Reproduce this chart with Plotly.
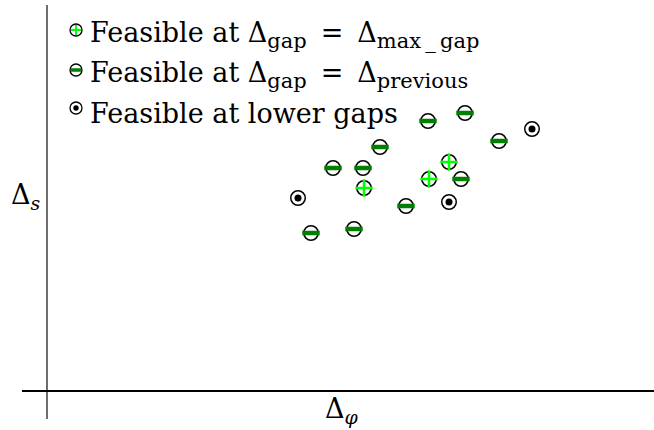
import plotly.graph_objects as go

# ---- data (arbitrary units) ----
minus_x = [3.81, 4.18, 4.52, 3.33, 2.86, 3.16, 4.14, 3.59, 2.64, 3.07]
minus_y = [2.70, 2.78, 2.50, 2.44, 2.23, 2.23, 2.12, 1.85, 1.58, 1.62]
plus_x = [4.02, 3.82, 3.17]
plus_y = [2.29, 2.12, 2.03]
dot_x = [4.85, 2.51, 4.02]
dot_y = [2.62, 1.93, 1.89]

SUB = '<sub><span style="font-size:21px">{}</span></sub>'
EQ = "\u2009 = \u2009"
legend_labels = [
    "Feasible at Δ" + SUB.format("gap") + EQ + "Δ" + SUB.format("max\u2009_\u2009gap"),
    "Feasible at Δ" + SUB.format("gap") + EQ + "Δ" + SUB.format("previous"),
    "Feasible at lower gaps",
]
x_label = "Δ<sub><i>φ</i></sub>"
y_label = "Δ<sub><i>s</i></sub>"

W, H = 654, 430
ML, MR, MT, MB = 22, 0, 5, 11
PW, PH = W - ML - MR, H - MT - MB

def px(x):
    return (x - ML) / PW

def py(y):
    return (H - MB - y) / PH

FONT = "DejaVu Serif"
LIME = "#00ff00"
GREEN = "#007f00"

fig = go.Figure()

all_x = minus_x + plus_x + dot_x
all_y = minus_y + plus_y + dot_y
# white circles with black outline
fig.add_trace(go.Scatter(x=all_x, y=all_y, mode="markers", hoverinfo="skip",
                         marker=dict(symbol="circle", size=14.5, color="white",
                                     line=dict(color="black", width=1.5))))
fig.add_trace(go.Scatter(x=minus_x, y=minus_y, mode="markers", hoverinfo="skip",
                         marker=dict(symbol="line-ew", size=12.5,
                                     line=dict(color=GREEN, width=4.5))))
fig.add_trace(go.Scatter(x=plus_x, y=plus_y, mode="markers", hoverinfo="skip",
                         marker=dict(symbol="cross-thin", size=12.5,
                                     line=dict(color=LIME, width=2.5))))
fig.add_trace(go.Scatter(x=dot_x, y=dot_y, mode="markers", hoverinfo="skip",
                         marker=dict(symbol="circle", size=7, color="black")))

# ---- manual legend ----
shapes = []
annotations = []
row_y = [30, 70, 108]
mx = 76
r = 6
for i, (yy, lab) in enumerate(zip(row_y, legend_labels)):
    cx, cy = px(mx), py(yy)
    shapes.append(dict(type="circle", xref="paper", yref="paper",
                       xsizemode="pixel", ysizemode="pixel",
                       xanchor=cx, yanchor=cy, x0=-r, x1=r, y0=-r, y1=r,
                       fillcolor="white", line=dict(color="black", width=1.3)))
    if i == 0:
        shapes.append(dict(type="line", xref="paper", yref="paper",
                           xsizemode="pixel", ysizemode="pixel",
                           xanchor=cx, yanchor=cy, x0=-5, x1=5, y0=0, y1=0,
                           line=dict(color=LIME, width=2)))
        shapes.append(dict(type="line", xref="paper", yref="paper",
                           xsizemode="pixel", ysizemode="pixel",
                           xanchor=cx, yanchor=cy, x0=0, x1=0, y0=-5, y1=5,
                           line=dict(color=LIME, width=2)))
    elif i == 1:
        shapes.append(dict(type="line", xref="paper", yref="paper",
                           xsizemode="pixel", ysizemode="pixel",
                           xanchor=cx, yanchor=cy, x0=-5, x1=5, y0=0, y1=0,
                           line=dict(color=GREEN, width=3.5)))
    else:
        shapes.append(dict(type="circle", xref="paper", yref="paper",
                           xsizemode="pixel", ysizemode="pixel",
                           xanchor=cx, yanchor=cy, x0=-2.7, x1=2.7, y0=-2.7, y1=2.7,
                           fillcolor="black", line=dict(color="black", width=0)))
    annotations.append(dict(text=lab, xref="paper", yref="paper",
                            x=px(88), y=py(yy + 5), xanchor="left", yanchor="middle",
                            showarrow=False, font=dict(family=FONT, size=27, color="black")))

annotations.append(dict(text=x_label, xref="paper", yref="paper",
                        x=px(342), y=py(410), xanchor="center", yanchor="middle",
                        showarrow=False, font=dict(family=FONT, size=27, color="black")))
annotations.append(dict(text=y_label, xref="paper", yref="paper",
                        x=px(26), y=py(196), xanchor="center", yanchor="middle",
                        showarrow=False, font=dict(family=FONT, size=27, color="black")))

fig.update_layout(
    width=W, height=H,
    margin=dict(l=ML, r=MR, t=MT, b=MB),
    paper_bgcolor="white", plot_bgcolor="white",
    showlegend=False,
    shapes=shapes, annotations=annotations,
    xaxis=dict(range=[-0.25, 6.07], showgrid=False, showticklabels=False, ticks="",
               zeroline=True, zerolinecolor="#6e6e6e", zerolinewidth=2, showline=False),
    yaxis=dict(range=[-0.28, 3.86], showgrid=False, showticklabels=False, ticks="",
               zeroline=True, zerolinecolor="black", zerolinewidth=1.6, showline=False),
)

fig.write_html("out.html", config={"displayModeBar": False},
               post_script="document.body.style.margin='0';")
